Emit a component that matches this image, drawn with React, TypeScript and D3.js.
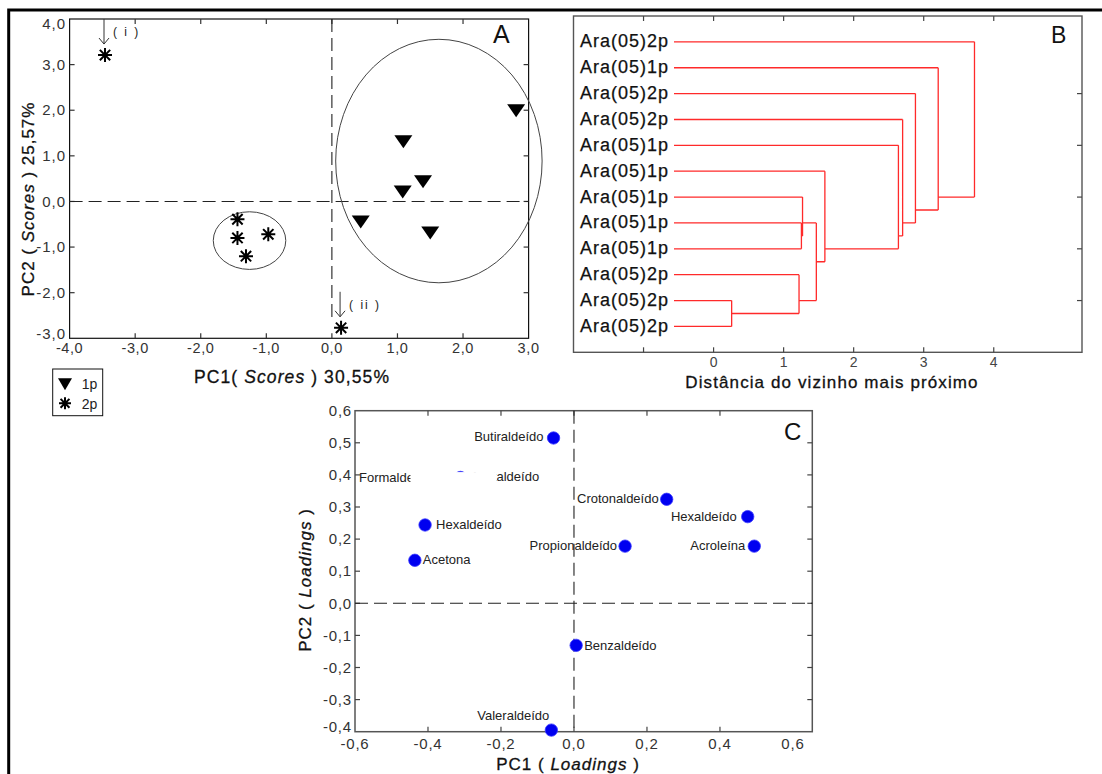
import React from "react";
import * as d3 from "d3";

const W = 1102;
const H = 774;
const FONT = "'Liberation Sans', Arial, Helvetica, sans-serif";

// ---------- Panel A: PCA scores ----------
const scoreTicksX = [-4, -3, -2, -1, 0, 1, 2, 3];
const scoreTicksY = [-3, -2, -1, 0, 1, 2, 3, 4];
const scores1pX = [2.81, 1.09, 1.39, 1.08, 0.44, 1.5];
const scores1pY = [1.99, 1.31, 0.43, 0.21, -0.45, -0.69];
const scores2pX = [-3.46, -1.44, -1.44, -0.97, -1.31, 0.14];
const scores2pY = [3.21, -0.39, -0.8, -0.72, -1.2, -2.77];
// group ellipses: centre and radii in score units
const ellipseCX = [1.632, -1.256];
const ellipseCY = [0.886, -0.858];
const ellipseRX = [1.574, 0.553];
const ellipseRY = [2.669, 0.632];
// outliers flagged with an arrow (index into the 2p series)
const outlierLabels = ["( i )", "( ii )"];
const outlierIndex = [0, 5];

// ---------- Panel B: dendrogram ----------
const leafLabels = [
  "Ara(05)2p",
  "Ara(05)1p",
  "Ara(05)2p",
  "Ara(05)2p",
  "Ara(05)1p",
  "Ara(05)1p",
  "Ara(05)1p",
  "Ara(05)1p",
  "Ara(05)1p",
  "Ara(05)2p",
  "Ara(05)2p",
  "Ara(05)2p",
];
// merge i joins mergeA[i] and mergeB[i] at mergeDist[i]; ids >= 12 are earlier merges
const mergeA = [10, 9, 7, 6, 15, 5, 4, 3, 2, 1, 0];
const mergeB = [11, 12, 8, 14, 13, 16, 17, 18, 19, 20, 21];
const mergeDist = [0.258, 1.22, 1.254, 1.27, 1.467, 1.589, 2.639, 2.699, 2.882, 3.207, 3.725];
const distTicks = [-1, 0, 1, 2, 3, 4];
const distTickLabels = [0, 1, 2, 3, 4];
const leafAxisTicks = [2, 4, 6, 8, 10];

// ---------- Panel C: PCA loadings ----------
const loadingNames = [
  "Butiraldeído",
  "Formaldeído",
  "Acetaldeído",
  "Crotonaldeído",
  "Hexaldeído",
  "Hexaldeído",
  "Propionaldeído",
  "Acroleína",
  "Acetona",
  "Benzaldeído",
  "Valeraldeído",
];
const loadingPC1 = [-0.056, -0.4, -0.311, 0.254, 0.476, -0.408, 0.14, 0.494, -0.436, 0.006, -0.062];
const loadingPC2 = [0.515, 0.375, 0.392, 0.324, 0.27, 0.244, 0.178, 0.178, 0.134, -0.131, -0.395];
const loadingTicksX = [-0.6, -0.4, -0.2, 0, 0.2, 0.4, 0.6];
const loadingTicksY = [-0.4, -0.3, -0.2, -0.1, 0, 0.1, 0.2, 0.3, 0.4, 0.5, 0.6];

// label placement for each loading point (anchor side and pixel offsets)
const loadingLabelStyle: { anchor: "start" | "end"; dx: number; dy: number }[] = [
  { anchor: "end", dx: -10, dy: 3 },
  { anchor: "end", dx: 4, dy: -1 },
  { anchor: "start", dx: 10, dy: 4 },
  { anchor: "end", dx: -8, dy: 4 },
  { anchor: "end", dx: -11, dy: 4 },
  { anchor: "start", dx: 11, dy: 4 },
  { anchor: "end", dx: -8, dy: 4 },
  { anchor: "end", dx: -9, dy: 4 },
  { anchor: "start", dx: 8, dy: 4 },
  { anchor: "start", dx: 8, dy: 5 },
  { anchor: "end", dx: -2, dy: -10 },
];

const fmt = (v: number, digits: number) => v.toFixed(digits).replace(".", ",");

function triangleDown(x: number, y: number, w: number, h: number) {
  return `M${x - w / 2},${y - h / 2}L${x + w / 2},${y - h / 2}L${x},${y + h / 2}Z`;
}

function asterisk(x: number, y: number, r: number) {
  const d = r * 0.74;
  return (
    `M${x - r},${y}L${x + r},${y}` +
    `M${x},${y - r}L${x},${y + r}` +
    `M${x - d},${y - d}L${x + d},${y + d}` +
    `M${x - d},${y + d}L${x + d},${y - d}`
  );
}

function frameOf(x: d3.ScaleLinear<number, number>, y: d3.ScaleLinear<number, number>) {
  const [xa, xb] = x.range();
  const [ya, yb] = y.range();
  return { l: Math.min(xa, xb), r: Math.max(xa, xb), t: Math.min(ya, yb), b: Math.max(ya, yb) };
}

function InwardTicks({
  x,
  y,
  xTicks,
  yTicks,
  sides,
  len = 5,
  stroke = "#333",
}: {
  x: d3.ScaleLinear<number, number>;
  y: d3.ScaleLinear<number, number>;
  xTicks: number[];
  yTicks: number[];
  sides: { top?: boolean; bottom?: boolean; left?: boolean; right?: boolean };
  len?: number;
  stroke?: string;
}) {
  const { l, r, t, b } = frameOf(x, y);
  const out: React.ReactNode[] = [];
  xTicks.forEach((v, i) => {
    const px = x(v);
    if (sides.top) out.push(<line key={`t${i}`} x1={px} x2={px} y1={t} y2={t + len} stroke={stroke} />);
    if (sides.bottom) out.push(<line key={`b${i}`} x1={px} x2={px} y1={b} y2={b - len} stroke={stroke} />);
  });
  yTicks.forEach((v, i) => {
    const py = y(v);
    if (sides.left) out.push(<line key={`l${i}`} x1={l} x2={l + len} y1={py} y2={py} stroke={stroke} />);
    if (sides.right) out.push(<line key={`r${i}`} x1={r} x2={r - len} y1={py} y2={py} stroke={stroke} />);
  });
  return <g strokeWidth={1.2}>{out}</g>;
}

function PanelA() {
  const x = d3.scaleLinear().domain([-4, 3]).range([69.6, 528.6]);
  const y = d3.scaleLinear().domain([-3, 4]).range([338.3, 19]);
  const { l, r, t, b } = frameOf(x, y);
  const inner = (arr: number[]) => arr.slice(1, -1);
  return (
    <g fontFamily={FONT}>
      <rect x={l} y={t} width={r - l} height={b - t} fill="none" stroke="#111" strokeWidth={1.2} />
      <InwardTicks x={x} y={y} xTicks={inner(scoreTicksX)} yTicks={inner(scoreTicksY)} sides={{ top: true, bottom: true, left: true, right: true }} />
      {/* zero reference lines */}
      <line x1={l} x2={r} y1={y(0)} y2={y(0)} stroke="#222" strokeWidth={1.1} strokeDasharray="13 6" />
      <line x1={x(0)} x2={x(0)} y1={t} y2={y(-2.55)} stroke="#222" strokeWidth={1.1} strokeDasharray="13 6" />
      {/* tick labels */}
      <g fontSize={14.5} fill="#333" letterSpacing={0.6}>
        {scoreTicksX.map((v) => (
          <text key={v} x={x(v)} y={353} textAnchor="middle">
            {fmt(v, 1)}
          </text>
        ))}
      </g>
      <g fontSize={15} fill="#333" letterSpacing={1}>
        {scoreTicksY.map((v) => (
          <text key={v} x={66} y={Math.min(Math.max(y(v), 24), 334)} dy="0.35em" textAnchor="end">
            {fmt(v, 1)}
          </text>
        ))}
      </g>
      {/* group ellipses */}
      {ellipseCX.map((cx, i) => (
        <ellipse
          key={i}
          cx={x(cx)}
          cy={y(ellipseCY[i])}
          rx={x(ellipseRX[i]) - x(0)}
          ry={y(0) - y(ellipseRY[i])}
          fill="none"
          stroke="#444"
          strokeWidth={1}
        />
      ))}
      {/* 1p scores */}
      {scores1pX.map((v, i) => (
        <path key={i} d={triangleDown(x(v), y(scores1pY[i]), 18, 13)} fill="#000" />
      ))}
      {/* 2p scores */}
      {scores2pX.map((v, i) => (
        <path key={i} d={asterisk(x(v), y(scores2pY[i]), 7)} stroke="#000" strokeWidth={2} fill="none" />
      ))}
      {/* outlier arrows */}
      {outlierIndex.map((idx, i) => {
        const px = x(scores2pX[idx]) - 1;
        const tip = y(scores2pY[idx]) - 11;
        const top = i === 0 ? t : tip - 25;
        return (
          <g key={i}>
            <path
              d={`M${px},${top}L${px},${tip}M${px - 5},${tip - 6}L${px},${tip}L${px + 5},${tip - 6}`}
              stroke="#333"
              strokeWidth={1}
              fill="none"
            />
            <text x={px + 9} y={top + 17} fontSize={12} letterSpacing={2} fill="#222">
              {outlierLabels[i]}
            </text>
          </g>
        );
      })}
      <text x={493} y={43} fontSize={25} fill="#111">
        A
      </text>
      {/* axis titles */}
      <g stroke="#111" strokeWidth={0.3} fill="#111">
        <text x={292} y={383} textAnchor="middle" fontSize={17.5} letterSpacing={1.1}>
          PC1( <tspan fontStyle="italic">Scores</tspan> ) 30,55%
        </text>
        <text transform={`translate(34,199) rotate(-90)`} textAnchor="middle" fontSize={17} letterSpacing={1}>
          PC2 ( <tspan fontStyle="italic">Scores</tspan> ) 25,57%
        </text>
      </g>
      {/* legend */}
      <rect x={52.7} y={369} width={50} height={46.7} fill="none" stroke="#111" strokeWidth={1} />
      <path d={triangleDown(65, 384.3, 14, 12)} fill="#000" />
      <text x={81.7} y={388.5} fontSize={14} fill="#222">
        1p
      </text>
      <path d={asterisk(65, 403.3, 6)} stroke="#000" strokeWidth={2} fill="none" />
      <text x={81.7} y={408.5} fontSize={14} fill="#222">
        2p
      </text>
    </g>
  );
}

function PanelB() {
  const x = d3.scaleLinear().domain([-2, 5.26]).range([573.5, 1082]);
  const y = d3.scaleLinear().domain([-1, 12]).range([16, 352.3]);
  const { l, r, t, b } = frameOf(x, y);
  const leafStart = 674;

  type Node = { leaves: number[]; y: number; h: number | null };
  const nodes: Node[] = leafLabels.map((_, i) => ({ leaves: [i], y: y(i), h: null }));
  mergeA.forEach((a, i) => {
    const leaves = [...nodes[a].leaves, ...nodes[mergeB[i]].leaves];
    nodes.push({ leaves, y: d3.mean(leaves, (k) => y(k)) as number, h: mergeDist[i] });
  });
  const nodeX = (n: Node) => (n.h === null ? leafStart : x(n.h));

  const segs: string[] = [];
  mergeA.forEach((a, i) => {
    const hx = x(mergeDist[i]);
    const na = nodes[a];
    const nb = nodes[mergeB[i]];
    segs.push(`M${nodeX(na)},${na.y}H${hx}`);
    segs.push(`M${nodeX(nb)},${nb.y}H${hx}`);
    segs.push(`M${hx},${na.y}V${nb.y}`);
  });

  return (
    <g fontFamily={FONT}>
      <rect x={l} y={t} width={r - l} height={b - t} fill="none" stroke="#555" strokeWidth={1.4} />
      <InwardTicks x={x} y={y} xTicks={distTicks} yTicks={leafAxisTicks} sides={{ top: true, bottom: true, right: true }} stroke="#444" />
      <path d={segs.join("")} stroke="#ff2a2a" strokeWidth={1.3} fill="none" />
      <g fontSize={18} letterSpacing={1} fill="#111" stroke="#111" strokeWidth={0.25}>
        {leafLabels.map((lab, i) => (
          <text key={i} x={leafStart - 5} y={y(i) + 5.5} textAnchor="end">
            {lab}
          </text>
        ))}
      </g>
      <g fontSize={14} fill="#444">
        {distTickLabels.map((v) => (
          <text key={v} x={x(v)} y={367} textAnchor="middle">
            {v}
          </text>
        ))}
      </g>
      <text x={832} y={388} textAnchor="middle" fontSize={17} letterSpacing={1.1} fill="#111" stroke="#111" strokeWidth={0.3}>
        Distância do vizinho mais próximo
      </text>
      <text x={1051} y={43} fontSize={23} fill="#111">
        B
      </text>
    </g>
  );
}

function PanelC() {
  const x = d3.scaleLinear().domain([-0.6, 0.653]).range([355, 812.3]);
  const y = d3.scaleLinear().domain([-0.4, 0.6]).range([731.7, 410.7]);
  const { l, r, t, b } = frameOf(x, y);
  const inner = (arr: number[]) => arr.slice(1, -1);
  const maskIdx = loadingNames.indexOf("Acetaldeído");
  const mx = x(loadingPC1[maskIdx]);
  const my = y(loadingPC2[maskIdx]);
  return (
    <g fontFamily={FONT}>
      <rect x={l} y={t} width={r - l} height={b - t} fill="none" stroke="#555" strokeWidth={1.5} />
      <InwardTicks x={x} y={y} xTicks={inner(loadingTicksX)} yTicks={inner(loadingTicksY)} sides={{ top: true, bottom: true, left: true, right: true }} stroke="#444" />
      <line x1={l} x2={r} y1={y(0)} y2={y(0)} stroke="#222" strokeWidth={1.1} strokeDasharray="13 6" />
      <line x1={x(0)} x2={x(0)} y1={t} y2={b} stroke="#222" strokeWidth={1.1} strokeDasharray="13 6" />
      <g fontSize={15} fill="#333" letterSpacing={0.8}>
        {loadingTicksX.map((v) => (
          <text key={v} x={x(v)} y={749} textAnchor="middle">
            {fmt(v, 1)}
          </text>
        ))}
        {loadingTicksY.map((v) => (
          <text key={v} x={352} y={Math.min(y(v), 727)} dy="0.35em" textAnchor="end">
            {fmt(v, 1)}
          </text>
        ))}
      </g>
      {loadingPC1.map((v, i) => (
        <circle key={i} cx={x(v)} cy={y(loadingPC2[i])} r={6.2} fill="#0000f0" stroke="#3a3aff" strokeWidth={0.8} />
      ))}
      <g fontSize={13} fill="#222">
        {loadingNames.map((name, i) => {
          const s = loadingLabelStyle[i];
          return (
            <text key={i} x={x(loadingPC1[i]) + s.dx} y={y(loadingPC2[i]) + s.dy} textAnchor={s.anchor}>
              {name}
            </text>
          );
        })}
      </g>
      {/* blank annotation box over the crowded labels */}
      <rect x={mx - 50} y={my - 5.4} width={86} height={20} fill="#fff" />
      <text x={784} y={440} fontSize={24} fill="#111">
        C
      </text>
      <g stroke="#111" strokeWidth={0.3} fill="#111">
        <text x={568} y={770} textAnchor="middle" fontSize={17} letterSpacing={1}>
          PC1 ( <tspan fontStyle="italic">Loadings</tspan> )
        </text>
        <text transform={`translate(311,580) rotate(-90)`} textAnchor="middle" fontSize={17} letterSpacing={1}>
          PC2 ( <tspan fontStyle="italic">Loadings</tspan> )
        </text>
      </g>
    </g>
  );
}

export default function App() {
  return (
    <svg
      width={W}
      height={H}
      viewBox={`0 0 ${W} ${H}`}
      style={{ position: "absolute", left: 0, top: 0, background: "#fff" }}
    >
      <rect width={W} height={H} fill="#fff" />
      {/* figure border */}
      <path d={`M8.7,${H}V10H${W}`} fill="none" stroke="#000" strokeWidth={3} />
      <PanelA />
      <PanelB />
      <PanelC />
    </svg>
  );
}
